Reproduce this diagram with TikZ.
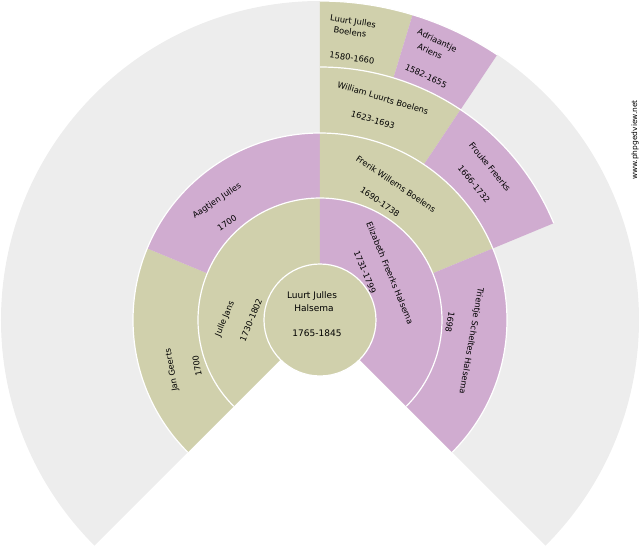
\documentclass[tikz,border=0pt]{standalone}
\usepackage{fontspec}
\setmainfont{DejaVu Sans}
\definecolor{khaki}{RGB}{208,208,172}
\definecolor{pinkp}{RGB}{208,172,208}
\definecolor{bgray}{RGB}{237,237,237}
\newcommand\fansector[5]{\fill[#1] (#4:#2) arc[start angle=#4, end angle=#5, radius=#2] -- (#5:#3) arc[start angle=#5, end angle=#4, radius=#3] -- cycle;}
\tikzset{
  lbl/.style={font=\fontsize{8.3}{9}\selectfont, inner sep=0pt},
  clbl/.style={font=\fontsize{9}{10}\selectfont, inner sep=0pt},
  sepline/.style={white, line width=1.2pt},
}
\begin{document}
\begin{tikzpicture}[x=1pt,y=1pt]
\useasboundingbox (-320,-230) rectangle (320,320);
% background fan
\fill[bgray] (0,0) -- (-45:319) arc[start angle=-45, end angle=225, radius=319] -- cycle;
% ring 1
\fansector{khaki}{56}{122}{90}{225}
\fansector{pinkp}{56}{122}{-45}{90}
% ring 2
\fansector{khaki}{122}{187}{157.5}{225}
\fansector{pinkp}{122}{187}{90}{157.5}
\fansector{khaki}{122}{187}{22.5}{90}
\fansector{pinkp}{122}{187}{-45}{22.5}
% ring 3
\fansector{khaki}{187}{253}{56.25}{90}
\fansector{pinkp}{187}{253}{22.5}{56.25}
% ring 4
\fansector{khaki}{253}{319}{73.125}{90}
\fansector{pinkp}{253}{319}{56.25}{73.125}
% separators
\draw[sepline] (225:122) arc[start angle=225, end angle=-45, radius=122];
\draw[sepline] (225:187) arc[start angle=225, end angle=-45, radius=187];
\draw[sepline] (90:253) arc[start angle=90, end angle=22.5, radius=253];
\draw[sepline] (90:319) arc[start angle=90, end angle=56.25, radius=319];
% centre
\fill[khaki] (0,0) circle (56);
\draw[sepline] (0,0) circle (56);
\node[clbl] (c1) at (-8,24) {Luurt Julles};
\node[clbl] (c2) at (-6,12) {Halsema};
\node[clbl] (c3) at (-3,-13) {1765-1845};
% ring 1 labels
\node[lbl, rotate=67.5] (j1) at (-95,1) {Julle Jans};
\node[lbl, rotate=67.5] (j2) at (-69,0) {1730-1802};
\node[lbl, rotate=-67.5] (e1) at (70,47) {Elizabeth Freerks Halsema};
\node[lbl, rotate=-67.5] (e2) at (45,48) {1731-1799};
% ring 2 labels
\node[lbl, rotate=100] (g1) at (-148,-50) {Jan Geerts};
\node[lbl, rotate=100] (g2) at (-123,-46) {1700};
\node[lbl, rotate=33.75] (a1) at (-103,119) {Aagtjen Julles};
\node[lbl, rotate=33.75] (a2) at (-93,97) {1700};
\node[lbl, rotate=-33.75] (f1) at (76,136) {Frerik Willems Boelens};
\node[lbl, rotate=-33.75] (f2) at (60,118) {1690-1738};
\node[lbl, rotate=-100] (t1) at (151,-21) {Trientje Scheltes Halsema};
\node[lbl, rotate=-100] (t2) at (130,-2) {1698};
% ring 3 labels
\node[lbl, rotate=-16.875] (w1) at (63,222) {William Luurts Boelens};
\node[lbl, rotate=-16.875] (w2) at (53,200) {1623-1693};
\node[lbl, rotate=-50.6] (fr1) at (170,153) {Frouke Freerks};
\node[lbl, rotate=-50.6] (fr2) at (154,136) {1666-1732};
% ring 4 labels
\node[lbl, rotate=-8.4] (l1) at (33,298) {Luurt Julles};
\node[lbl, rotate=-8.4] (l2) at (30,288) {Boelens};
\node[lbl, rotate=-8.4] (l3) at (32,262) {1580-1660};
\node[lbl, rotate=-25.3] (ad1) at (117,279) {Adriaantje};
\node[lbl, rotate=-25.3] (ad2) at (110,269) {Ariens};
\node[lbl, rotate=-25.3] (ad3) at (106,244) {1582-1655};
% watermark
\node[font=\fontsize{7.5}{8}\selectfont, inner sep=0pt, rotate=90] (wm) at (315,180) {www.phpgedview.net};
\end{tikzpicture}
\end{document}
